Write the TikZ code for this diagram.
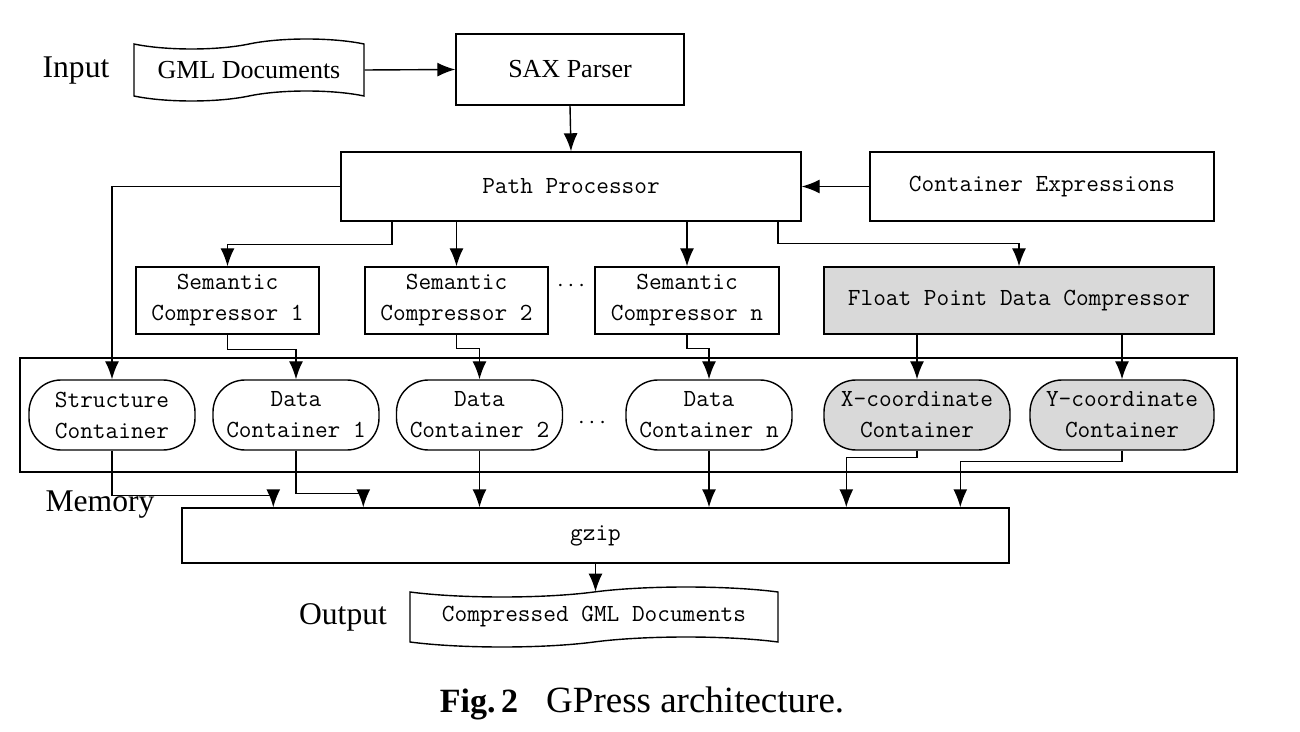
\documentclass[tikz,border=0pt]{standalone}
\usepackage{fontspec}
\setmainfont{Liberation Serif}
\usetikzlibrary{shapes.symbols,arrows.meta}

\newcommand{\mono}{\ttfamily\fontsize{12.3}{15.5}\selectfont}

\begin{document}
\begin{tikzpicture}[x=0.5pt,y=-0.5pt,line width=0.7pt,
  arr/.style={-{Latex[length=9pt,width=7pt]}},
  box/.style={draw,rectangle,inner sep=0pt,align=center,font=\mono},
  grayfill/.style={fill=gray!30},
  cont/.style={box,rounded corners=16pt,minimum width=83pt,minimum height=35pt},
  doc/.style={draw,tape,inner sep=0pt,tape bend height=5pt},
  lbl/.style={font=\fontsize{15.8}{18}\selectfont}]
\useasboundingbox (0,0) rectangle (1300,732);

% input row
\node[lbl] (inp) at (76,71) {Input};
\node[doc,minimum width=115pt,minimum height=31pt,font=\fontsize{13}{15}\selectfont] (gml) at (249,70) {GML Documents};
\node[box,minimum width=114pt,minimum height=35.5pt,font=\fontsize{13}{15}\selectfont] (sax) at (570,69.5) {SAX Parser};

% path processor
\node[box,minimum width=230pt,minimum height=34.5pt] (pp) at (571,186.5) {Path Processor};
\node[box,minimum width=172pt,minimum height=34.5pt] (ce) at (1042,186.5) {Container Expressions};

% compressors
\node[box,minimum width=91.5pt,minimum height=33.5pt] (sc1) at (227.5,300.5) {Semantic\\Compressor 1};
\node[box,minimum width=91.5pt,minimum height=33.5pt] (sc2) at (456.5,300.5) {Semantic\\Compressor 2};
\node[font=\mono] (dots1) at (571,286) {$\cdots$};
\node[box,minimum width=92pt,minimum height=33.5pt] (scn) at (687,300.5) {Semantic\\Compressor n};
\node[box,grayfill,minimum width=195pt,minimum height=33.5pt] (fpdc) at (1019,300.5) {Float Point Data Compressor};

% memory
\node[draw,minimum width=608.5pt,minimum height=57pt] (mem) at (628.5,415) {};
\node[cont] (stc) at (112,415) {Structure\\Container};
\node[cont] (dc1) at (296,415) {Data\\Container 1};
\node[cont] (dc2) at (479.5,415) {Data\\Container 2};
\node[font=\mono] (dots2) at (592,423) {$\cdots$};
\node[cont] (dcn) at (709,415) {Data\\Container n};
\node[cont,grayfill,minimum width=93pt] (xc) at (917,415) {X-coordinate\\Container};
\node[cont,grayfill,minimum width=92pt] (yc) at (1122,415) {Y-coordinate\\Container};
\node[lbl] (memlbl) at (100,505) {Memory};

% output
\node[box,minimum width=413.5pt,minimum height=27.5pt] (gz) at (595.5,535.5) {gzip};
\node[lbl] (outlbl) at (343,617) {Output};
\node[doc,minimum width=184pt,minimum height=30pt,font=\mono] (outdoc) at (594,617) {Compressed GML Documents};

\node[font=\fontsize{18.5}{21}\selectfont] (cap) at (642,703) {{\fontsize{17}{20}\selectfont\textbf{Fig.\,2}}\hspace{14pt}GPress architecture.};

% connectors
\draw[arr] (gml.east) -- (sax.west);
\draw[arr] (sax.south) -- (pp.north);
\draw[arr] (ce.west) -- (pp.east);
\draw[arr] (pp.west) -| (stc.north);
\draw[arr] ([xshift=-89.5pt]pp.south) -- ++(0,23) -| (sc1.north);
\draw[arr] (sc2.north |- pp.south) -- (sc2.north);
\draw[arr] (scn.north |- pp.south) -- (scn.north);
\draw[arr] ([xshift=103.5pt]pp.south) -- ++(0,22) -| (fpdc.north);

\draw[arr] (sc1.south) -- ++(0,15) -| (dc1.north);
\draw[arr] (sc2.south) -- ++(0,14) -| (dc2.north);
\draw[arr] (scn.south) -- ++(0,14) -| (dcn.north);
\draw[arr] (xc.north |- fpdc.south) -- (xc.north);
\draw[arr] (yc.north |- fpdc.south) -- (yc.north);

\draw[arr] (stc.south) -- ++(0,45) -| ([xshift=46pt]gz.north west);
\draw[arr] (dc1.south) -- ++(0,43) -| ([xshift=91pt]gz.north west);
\draw[arr] (dc2.south) -- (dc2.south |- gz.north);
\draw[arr] (dcn.south) -- (dcn.south |- gz.north);
\draw[arr] (xc.south) -- ++(0,7) -| ([xshift=332.5pt]gz.north west);
\draw[arr] (yc.south) -- ++(0,11) -| ([xshift=389.5pt]gz.north west);
\draw[arr] (gz.south) -- (gz.south |- outdoc.north);
\end{tikzpicture}
\end{document}
